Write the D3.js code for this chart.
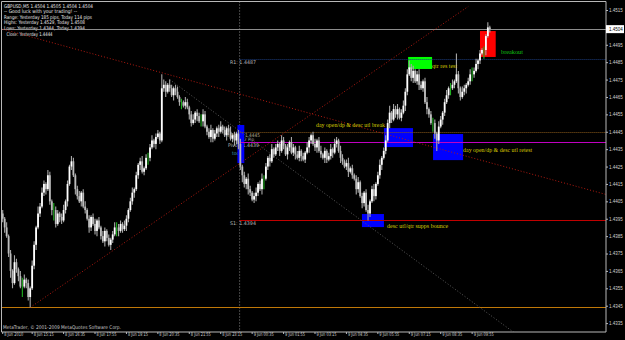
<!DOCTYPE html>
<html><head><meta charset="utf-8">
<script src="https://d3js.org/d3.v7.min.js"></script>
<style>html,body{margin:0;padding:0;background:#000;overflow:hidden}svg{display:block}</style>
</head><body>
<svg id="chart" width="625" height="340"></svg>
<script>
// ================= DATA =================
const infoLines = [
  "GBPUSD,M5  1.4504 1.4505 1.4504 1.4504",
  "-- Good luck with your trading! --",
  "Range: Yesterday 185 pips, Today 114 pips",
  "Highs: Yesterday 1.4529, Today 1.4508",
  "Lows: Yesterday 1.4344, Today 1.4394",
  "Close: Yesterday 1.4444"
];
const copyrightText = "MetaTrader, \u00A9 2001-2009 MetaQuotes Software Corp.";

// GBPUSD M5 candles, 8 Jun 14:00 -> 9 Jun 10:40 (open of each = previous close)
const firstOpen = 1.4398;
const closes = [
  1.4395,1.4390,1.4385,1.4375,1.4365,
  1.4358,1.4370,1.4366,
  1.4362,1.4356,1.4356,1.4360,1.4358,1.4350,1.4355,
  1.4368,1.4380,1.4390,1.4398,1.4402,
  1.4410,1.4415,1.4412,1.4420,1.4405,
  1.4400,1.4400,1.4392,1.4398,1.4396,1.4394,1.4400,
  1.4405,1.4415,1.4425,1.4428,1.4420,
  1.4412,1.4408,1.4405,1.4410,1.4402,
  1.4400,1.4395,1.4390,1.4396,1.4392,1.4388,1.4394,
  1.4390,1.4385,1.4382,1.4388,1.4384,1.4380,1.4383,
  1.4386,1.4390,1.4390,1.4388,1.4392,1.4389,1.4391,1.4395,
  1.4400,1.4405,1.4410,1.4412,
  1.4420,1.4426,1.4428,1.4422,1.4424,1.4430,
  1.4430,1.4436,1.4440,1.4438,
  1.4442,1.4444,1.4440,
  1.4470,1.4472,
  1.4468,1.4472,1.4470,1.4466,1.4470,1.4468,
  1.4465,1.4462,1.4462,1.4460,1.4462,1.4459,
  1.4455,1.4450,1.4452,1.4456,1.4454,1.4451,1.4451,1.4455,
  1.4448,1.4445,1.4442,1.4446,1.4441,1.4444,1.4447,
  1.4445,1.4448,1.4446,1.4443,1.4447,1.4445,1.4441,
  1.4443,1.4440,1.4444,
  1.4438,1.4425,1.4420,1.4415,
  1.4418,1.4412,1.4410,1.4406,1.4408,
  1.4410,1.4415,1.4412,1.4418,1.4418,
  1.4425,1.4430,1.4428,1.4435,1.4432,
  1.4436,1.4438,1.4434,1.4440,1.4437,1.4432,1.4436,1.4439,1.4433,1.4436,
  1.4432,1.4430,1.4434,1.4431,1.4429,1.4433,
  1.4436,1.4440,1.4443,1.4438,1.4436,1.4440,1.4434,
  1.4432,1.4430,1.4434,1.4429,1.4431,1.4435,1.4433,
  1.4438,1.4440,1.4434,
  1.4430,1.4428,1.4425,1.4427,1.4422,1.4424,1.4420,
  1.4418,1.4412,1.4416,
  1.4408,1.4404,1.4410,1.4400,1.4398,
  1.4405,1.4412,1.4408,1.4415,
  1.4420,1.4426,1.4430,1.4434,
  1.4440,1.4450,1.4456,1.4452,1.4458,
  1.4455,1.4458,1.4453,1.4456,1.4460,
  1.4468,1.4478,1.4482,
  1.4476,1.4480,1.4474,1.4478,
  1.4472,1.4470,1.4474,
  1.4462,1.4458,1.4455,
  1.4450,1.4450,1.4444,1.4440,
  1.4448,1.4452,1.4456,
  1.4462,1.4466,1.4470,
  1.4470,1.4472,1.4474,1.4478,
  1.4470,1.4465,1.4468,
  1.4470,1.4472,1.4474,
  1.4478,1.4478,1.4480,1.4484,
  1.4486,1.4490,1.4492,1.4492,1.4500,1.4505,1.4504
];
// wick lengths in pips above max(open,close) / below min(open,close)
const highWickPips = [
  2,1,3,1,2,1,4,2,1,3, 5,3,1,2,1,3,2,1,4,2, 3,2,1,3,2,1,4,2,2,1, 2,3,1,2,1,3,2,1,2,3,
  1,2,3,1,2,1,2,3,1,2, 1,3,2,1,2,1,2,3,3,2, 2,1,3,2,1,2,3,1,2,1, 2,3,1,2,3,2,3,1,2,2,
  1,8,3,2,1,3,2,1,2,3, 1,2,1,3,2,1,2,3,1,2, 2,4,3,2,1,2,3,1,2,1, 2,3,1,2,1,2,3,1,2,1,
  2,3,1,2,1,3,2,1,2,3, 1,2,3,2,2,1,2,3,1,2, 2,1,3,2,1,2,1,3,2,1, 2,3,1,2,1,3,2,1,2,3,
  1,2,3,1,2,1,2,3,1,3, 2,1,3,2,1,2,3,1,2,1, 2,3,1,2,1,2,3,1,2,3, 1,2,3,1,2,3,2,4,1,3,
  2,3,1,2,3,2,3,4,2,3, 1,2,3,2,1,2,3,1,2,3, 2,1,3,2,1,2,3,1,3,3, 1,12,2,1,3,2,1,2,3,4,
  2,3,1,2,1,2,1,3,1
];
const lowWickPips = [
  2,3,1,2,4,3,1,2,3,1, 6,1,3,2,6,1,2,3,1,2, 1,2,3,1,2,3,6,2,1,3, 2,1,2,3,1,2,1,3,2,1,
  3,1,2,1,3,2,1,2,3,1, 2,1,3,2,1,3,2,1,5,3, 1,2,1,3,2,1,2,3,1,2, 3,1,2,1,4,2,1,2,3,1,
  2,1,2,3,1,2,1,3,2,1, 2,4,1,2,1,3,2,1,2,3, 1,3,3,1,2,1,3,2,1,2, 3,1,2,1,3,2,1,2,3,2,
  3,2,4,2,3,3,2,1,2,3, 2,1,3,6,1,2,3,1,2,1, 2,3,1,2,1,3,2,1,2,3, 1,2,3,1,2,1,3,2,1,2,
  3,1,2,1,3,2,1,2,3,1, 2,1,3,2,1,2,3,1,2,1, 3,2,1,3,2,1,4,2,1,3, 2,1,2,3,1,2,1,3,2,1,
  2,3,1,2,1,3,2,1,2,3, 1,2,3,1,2,1,3,2,1,5, 3,6,2,1,3,2,1,2,4,1, 2,1,3,2,1,2,3,1,2,4,
  2,1,3,2,1,5,3,1,2
];

const priceTicks = [1.4515,1.4495,1.4485,1.4475,1.4465,1.4455,1.4445,1.4435,1.4425,1.4415,
                    1.4405,1.4395,1.4385,1.4375,1.4365,1.4355,1.4345,1.4335];
const timeTickIndex = [0,15,31,47,63,79,95,111,127,143,159,175,191,207,223,239];
const timeTickLabels = ["8 Jun 2010","8 Jun 15:15","8 Jun 16:35","8 Jun 17:55","8 Jun 19:15",
  "8 Jun 20:35","8 Jun 21:55","8 Jun 23:15","9 Jun 00:35","9 Jun 01:55","9 Jun 03:15",
  "9 Jun 04:35","9 Jun 05:55","9 Jun 07:15","9 Jun 08:35","9 Jun 09:55"];

const bidPrice = 1.4504;
const dayStartIndex = 120;
const r1Price = 1.4487;
const todayOpenPrice = 1.4445;
const pivotPrice = 1.4439;
const s1Price = 1.4394;
const yesterdayLowPrice = 1.4344;

// trend lines: [index, price] pairs
const trendDesc = [[0, 1.4504], [307, 1.4409]];
const trendAsc = [[14, 1.4344], [237, 1.4517]];
const trendGrey = [[85, 1.4475], [261, 1.4329]];

// rectangles: [index from, index to, price top, price bottom]
const blueBoxes = [
  [119.5, 123.0, 1.44489, 1.44270],
  [194.1, 208.9, 1.44471, 1.44362],
  [219.1, 234.4, 1.44437, 1.44287],
  [182.9, 194.1, 1.43977, 1.43902]
];
const greenBox = [206.4, 218.6, 1.44880, 1.44811];
const redBox = [243.0, 251.0, 1.45029, 1.44880];

const pivotLabelTexts = ["R1: 1.4487","Ts Open: 1.4445","2 Pip","Pivot: 1.4439","tools","S1: 1.4394"];
const pivotLabelIndex = [115.7, 113.2, 122.9, 114.7, 116.7, 115.7];
const pivotLabelPrice = [1.44839, 1.44420, 1.44396, 1.44365, 1.44316, 1.43914];

const noteTexts = ["day open/dp & desc utl break","qtr res test","day open/dp & desc utl retest",
                   "desc utl/qtr supps bounce","breakout"];
const noteIndex = [159.5, 218.6, 234.4, 195.7, 253.7];
const notePrice = [1.44477, 1.44816, 1.44333, 1.43896, 1.44897];

// ================= DRAW =================
const svg = d3.select('#chart');
const L = 1.5, R = 606, T = 1.5, B = 332;
const x = d3.scaleLinear().domain([0, 307]).range([2.7, 605.7]);
const y = d3.scaleLinear().domain([1.4335, 1.4515]).range([323.1, 10]);
const pip = 0.0001;

function fit(sel, w) {
  sel.each(function () {
    this.setAttribute('textLength', w);
    this.setAttribute('lengthAdjust', 'spacingAndGlyphs');
  });
}

svg.append('rect').attr('width', 625).attr('height', 340).attr('fill', '#000');
svg.append('defs').append('clipPath').attr('id', 'pc')
  .append('rect').attr('x', L).attr('y', T).attr('width', R - L).attr('height', B - T);
const g = svg.append('g').attr('clip-path', 'url(#pc)');

// info text
g.selectAll('text.info').data(infoLines).enter().append('text')
  .attr('class', 'info')
  .attr('x', (d, k) => k === 5 ? 6.5 : 4)
  .attr('y', (d, k) => 7.5 + k * 5.6)
  .attr('fill', '#e8e8e8')
  .attr('font-family', 'DejaVu Sans, sans-serif')
  .attr('font-size', 5)
  .text(d => d)
  .each(function (d, k) { fit(d3.select(this), [89, 73, 88, 81, 81, 46][k]); });

// copyright
g.append('text').attr('x', 3).attr('y', 329).attr('fill', '#c8c8c8')
  .attr('font-family', 'DejaVu Sans, sans-serif').attr('font-size', 5)
  .text(copyrightText).call(fit, 118);

// day separator
g.append('line')
  .attr('x1', x(dayStartIndex) + 1.2).attr('x2', x(dayStartIndex) + 1.2)
  .attr('y1', T).attr('y2', B)
  .attr('stroke', '#8a8a8a').attr('stroke-width', 1).attr('stroke-dasharray', '1,2');

// pivot labels (behind boxes)
const pivotColors = ['#b8b8b8', '#b0a890', '#a8a8a8', '#b8b8b8', '#3f9faf', '#b8b8b8'];
const pivotWidths = [26, 35, 10, 31, 11, 26];
g.selectAll('text.piv').data(pivotLabelTexts).enter().append('text')
  .attr('class', 'piv')
  .attr('x', (d, k) => x(pivotLabelIndex[k]))
  .attr('y', (d, k) => y(pivotLabelPrice[k]))
  .attr('fill', (d, k) => pivotColors[k])
  .attr('font-family', 'DejaVu Sans, sans-serif')
  .attr('font-size', (d, k) => k === 2 ? 4.5 : 5)
  .text(d => d)
  .each(function (d, k) { fit(d3.select(this), pivotWidths[k]); });

// boxes
function box(b, fill) {
  g.append('rect')
    .attr('x', x(b[0])).attr('width', x(b[1]) - x(b[0]))
    .attr('y', y(b[2])).attr('height', y(b[3]) - y(b[2]))
    .attr('fill', fill);
}
blueBoxes.forEach(b => box(b, '#0000ff'));
box(greenBox, '#00ff00');
box(redBox, '#ff0000');

// horizontal levels
function hline(p, x0, color, dash, w) {
  g.append('line').attr('x1', x0).attr('x2', R)
    .attr('y1', Math.round(y(p)) + 0.5).attr('y2', Math.round(y(p)) + 0.5)
    .attr('stroke', color).attr('stroke-width', w || 1)
    .attr('stroke-dasharray', dash || null);
}
const dayX = x(dayStartIndex) + 1.2;
hline(bidPrice, L, '#8c8c8c');
hline(yesterdayLowPrice, L, '#c07808');
hline(r1Price, dayX, '#1c3c7c', '1,1');
hline(todayOpenPrice, dayX, '#8a5a1a', '1,1');
hline(pivotPrice, dayX, '#c000c0');
hline(s1Price, dayX, '#c00000');

// trend lines
const lineGen = d3.line().x(d => x(d[0])).y(d => y(d[1]));
g.append('path').attr('d', lineGen(trendDesc)).attr('fill', 'none')
  .attr('stroke', '#b01a10').attr('stroke-width', 1).attr('stroke-dasharray', '1,2');
g.append('path').attr('d', lineGen(trendAsc)).attr('fill', 'none')
  .attr('stroke', '#b01a10').attr('stroke-width', 1).attr('stroke-dasharray', '1,2');
g.append('path').attr('d', lineGen(trendGrey)).attr('fill', 'none')
  .attr('stroke', '#5a5a5a').attr('stroke-width', 1).attr('stroke-dasharray', '1,2');

// candles
const candles = closes.map((c, i) => {
  const o = i === 0 ? firstOpen : closes[i - 1];
  return { i, o, c,
    h: Math.max(o, c) + highWickPips[i] * pip,
    l: Math.min(o, c) - lowWickPips[i] * pip };
});
const cg = g.append('g');
cg.selectAll('line.wick').data(candles).enter().append('line')
  .attr('class', 'wick')
  .attr('x1', d => x(d.i)).attr('x2', d => x(d.i))
  .attr('y1', d => y(d.h)).attr('y2', d => y(d.l))
  .attr('stroke', d => d.o === d.c ? '#20b020' : '#a8a8a8')
  .attr('stroke-width', 1.1);
cg.selectAll('rect.body').data(candles.filter(d => d.o !== d.c)).enter().append('rect')
  .attr('class', 'body')
  .attr('x', d => x(d.i) - 0.9).attr('width', 1.8)
  .attr('y', d => y(Math.max(d.o, d.c)))
  .attr('height', d => Math.max(1, y(Math.min(d.o, d.c)) - y(Math.max(d.o, d.c))))
  .attr('fill', d => d.c > d.o ? '#ffffff' : '#bcbcbc');

// notes
const noteColors = ['#d8cc00', '#d8cc00', '#d8cc00', '#d8cc00', '#10c010'];
const noteWidths = [69, 25, 69, 61, 22];
g.selectAll('text.note').data(noteTexts).enter().append('text')
  .attr('class', 'note')
  .attr('x', (d, k) => x(noteIndex[k]))
  .attr('y', (d, k) => y(notePrice[k]))
  .attr('fill', (d, k) => noteColors[k])
  .attr('font-family', 'Liberation Serif, serif')
  .attr('font-size', 6)
  .text(d => d)
  .each(function (d, k) { fit(d3.select(this), noteWidths[k]); });

// frame
svg.append('path')
  .attr('d', `M${R},${T}H${L}V${B}H${R}V${T}`)
  .attr('fill', 'none').attr('stroke', '#b8b8b8').attr('stroke-width', 1);

// price axis
const yAxis = d3.axisRight(y).tickValues(priceTicks).tickSize(2).tickPadding(1)
  .tickFormat(d3.format('.4f'));
const ya = svg.append('g').attr('transform', `translate(${R},0)`).call(yAxis);
ya.select('.domain').remove();
ya.selectAll('line').attr('stroke', '#b8b8b8');
ya.selectAll('text').attr('fill', '#d0d0d0').attr('font-family', 'Liberation Sans, Arial, sans-serif')
  .attr('font-size', 4.5);

// current price marker
svg.append('rect').attr('x', R).attr('y', y(bidPrice) - 4).attr('width', 18).attr('height', 8)
  .attr('fill', '#ffffff');
svg.append('text').attr('x', R + 3).attr('y', y(bidPrice) + 1.7).attr('fill', '#000')
  .attr('font-family', 'Liberation Sans, Arial, sans-serif').attr('font-size', 4.5)
  .text(d3.format('.4f')(bidPrice));

// time axis
const xAxis = d3.axisBottom(x).tickValues(timeTickIndex).tickSize(2).tickPadding(0)
  .tickFormat((d, k) => timeTickLabels[k]);
const xa = svg.append('g').attr('transform', `translate(-0.5,${B})`).call(xAxis);
xa.select('.domain').remove();
xa.selectAll('line').attr('stroke', '#b8b8b8');
xa.selectAll('text').attr('fill', '#d0d0d0').attr('font-family', 'DejaVu Sans, sans-serif')
  .attr('font-size', 5).attr('text-anchor', 'start').attr('dx', 1.5).attr('dy', '0.3em')
  .each(function (d, k) { fit(d3.select(this), k === 0 ? 19 : 20); });
</script>
</body></html>
